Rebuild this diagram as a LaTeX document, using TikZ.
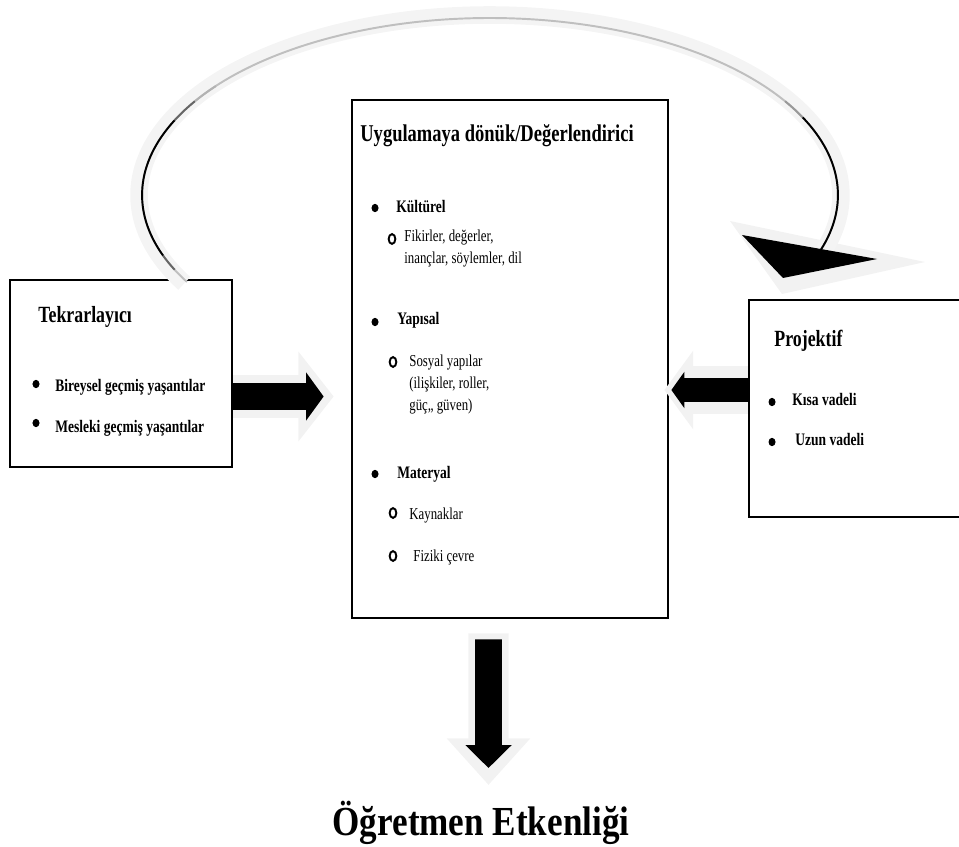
\documentclass[tikz,border=0pt]{standalone}
\usepackage{fontspec}
\setmainfont[FakeStretch=0.77]{Liberation Serif}
\newfontfamily\bigserif[FakeStretch=0.85]{Liberation Serif}
\usetikzlibrary{arrows.meta}

\tikzset{
    box/.style={draw, line width=1.6pt, inner sep=0pt},
    head/.style={anchor=base west, inner sep=0pt, font=\fontsize{13.2}{15}\selectfont\bfseries},
    item/.style={anchor=base west, inner sep=0pt, font=\fontsize{10}{12}\selectfont\bfseries},
    sub/.style={anchor=base west, inner sep=0pt, font=\fontsize{9.5}{12}\selectfont},
    ring/.style={draw=black, line width=1.1pt},
    shd/.style={gray!10},
    blk/.style={black},
}

\begin{document}
\begin{tikzpicture}[x=0.02cm, y=-0.02cm]
    \def\bdot#1{\fill (#1) ellipse[x radius=2pt, y radius=2.4pt];}
    \def\bring#1{\draw[ring] (#1) ellipse[x radius=1.9pt, y radius=2.8pt];}

    \clip (0,0) rectangle (959,847);

    % Boxes
    \node[box, minimum width=4.44cm, minimum height=3.74cm] (tek) at (121,373.5) {};
    \node[box, minimum width=6.32cm, minimum height=10.36cm] (uyg) at (510,359) {};
    \node[box, minimum width=4.32cm, minimum height=4.34cm] (pro) at (857,408.5) {};

    \node[head] (tekT) at (38,323) {Tekrarlayıcı};
    \bdot{36,384}
    \node[item] (tek1) at (55,392) {Bireysel geçmiş yaşantılar};
    \bdot{36,423}
    \node[item] (tek2) at (55,432) {Mesleki geçmiş yaşantılar};

    \node[head, font=\fontsize{13.7}{15}\selectfont\bfseries] (uygT) at (360,142) {Uygulamaya dönük/Değerlendirici};
    \bdot{375,208}
    \node[item] (kul) at (396,213) {Kültürel};
    \bring{392,239}
    \node[sub] (kul1) at (404,242) {Fikirler, değerler,};
    \node[sub] (kul2) at (404,264) {inançlar, söylemler, dil};
    \bdot{375,322}
    \node[item] (yap) at (397,325) {Yapısal};
    \bring{393,362}
    \node[sub] (yap1) at (409,367) {Sosyal yapılar};
    \node[sub] (yap2) at (409,388) {(ilişkiler, roller,};
    \node[sub] (yap3) at (409,410) {güç,, güven)};
    \bdot{375,474}
    \node[item] (mat) at (397,478) {Materyal};
    \bring{393,513}
    \node[sub] (mat1) at (409,519) {Kaynaklar};
    \bring{393,556}
    \node[sub] (mat2) at (413,561) {Fiziki çevre};

    \node[head] (proT) at (774,347) {Projektif};
    \bdot{772,402}
    \node[item] (pro1) at (792,405) {Kısa vadeli};
    \bdot{772,442}
    \node[item] (pro2) at (795,445) {Uzun vadeli};

    \node[anchor=base, inner sep=0pt, font=\bigserif\fontsize{23.5}{28}\selectfont\bfseries] (ogr) at (481,835) {Öğretmen Etkenliği};

    % Loop back over the top
    \coordinate (ctr) at (490,195);
    \fill[shd] (730,221) -- (925,262) -- (782,294) -- cycle;
    \draw[gray!9, line width=10pt] ([shift={(209.4:7.02cm and 3.6cm)}]ctr) arc[start angle=209.4, end angle=-18, x radius=7.02cm, y radius=3.6cm];
    \draw[gray!50, line width=1.1pt] ([shift={(209.4:6.96cm and 3.54cm)}]ctr) arc[start angle=209.4, end angle=-18, x radius=6.96cm, y radius=3.54cm];
    \foreach \s/\e/\c in {205/200/60, 200/155/100, 155/148/60, 148/142/30, 32/26/40, 26/-18/100}
        \draw[black!\c, line width=1.1pt] ([shift={(\s:6.96cm and 3.54cm)}]ctr) arc[start angle=\s, end angle=\e, x radius=6.96cm, y radius=3.54cm];
    \fill[blk] (742,235) -- (877,259) -- (783,278) -- cycle;

    % Block arrows
    \coordinate (a1) at ([yshift=-0.46cm]tek.east);
    \draw[shd, line width=25pt, -{Triangle[width=50pt, length=20pt]}, shorten >=0.34cm] (a1) -- (a1 -| uyg.west);
    \draw[blk, line width=15.3pt, -{Triangle[width=27pt, length=10pt]}, shorten >=0.54cm] (a1) -- (a1 -| uyg.west);

    \coordinate (r1) at ([yshift=0.37cm]pro.west);
    \draw[shd, line width=27pt, -{Triangle[width=44pt, length=16.4pt]}, shorten >=-0.1cm] (r1) -- (r1 -| uyg.east);
    \draw[blk, line width=13.6pt, -{Triangle[width=20.4pt, length=7.4pt]}, shorten >=0.04cm] (r1) -- (r1 -| uyg.east);

    \coordinate (d1) at ([xshift=-0.43cm, yshift=-0.4cm]uyg.south);
    \coordinate (d2) at (488.5,768);
    \draw[shd, line width=23pt, -{Triangle[width=46pt, length=26.6pt]}, shorten >=-0.34cm] ([yshift=0.12cm]d1) -- (d2);
    \draw[blk, line width=15.3pt, -{Triangle[width=25.5pt, length=13pt]}] (d1) -- (d2);
\end{tikzpicture}
\end{document}
